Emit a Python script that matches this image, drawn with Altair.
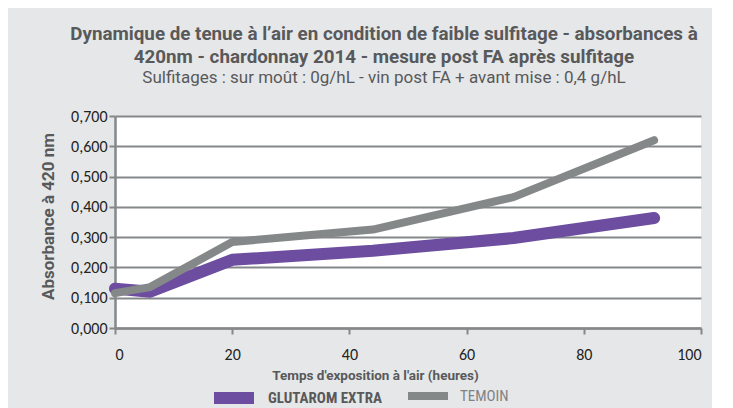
import altair as alt
import pandas as pd

hours = [0, 6, 20, 44, 68, 92]
glutarom = [0.130, 0.120, 0.225, 0.255, 0.297, 0.363]
temoin = [0.115, 0.135, 0.284, 0.325, 0.432, 0.620]
series_names = ["GLUTAROM EXTRA", "TEMOIN"]
series_colors = ["#6c4d9f", "#858889"]
series_widths = [12, 8]

rows = []
for h, g, t in zip(hours, glutarom, temoin):
    rows.append({"h": h, "v": g, "s": series_names[0]})
    rows.append({"h": h, "v": t, "s": series_names[1]})
df = pd.DataFrame(rows)

TITLE_FONT = "Roboto, sans-serif"
COND_FONT = "Roboto Condensed, Roboto, sans-serif"
LABEL_FONT = "Carlito, Open Sans, Liberation Sans, sans-serif"

legend_cfg = dict(title=None, orient="none", direction="horizontal",
                  legendX=93, legendY=256, symbolType="stroke",
                  symbolSize=1600, columnPadding=10, labelOffset=8,
                  labelFont=COND_FONT, labelFontSize=15, gridAlign="none",
                  labelFontWeight=alt.ExprRef("datum.label == 'GLUTAROM EXTRA' ? 'bold' : 'normal'"),
                  labelColor=alt.ExprRef("datum.label == 'GLUTAROM EXTRA' ? '#58595b' : '#808285'"))

chart = alt.Chart(df).mark_line(strokeCap="round", strokeJoin="round").encode(
    x=alt.X("h:Q", scale=alt.Scale(domain=[0, 100], nice=False),
            axis=alt.Axis(values=[0, 20, 40, 60, 80, 100], title="Temps d'exposition à l'air (heures)",
                          grid=False, labelPadding=12, titleX=260, titlePadding=6)),
    y=alt.Y("v:Q", scale=alt.Scale(domain=[0, 0.7], nice=False),
            axis=alt.Axis(values=[0, 0.1, 0.2, 0.3, 0.4, 0.5, 0.6, 0.7],
                          labelExpr="replace(format(datum.value, '.3f'), '.', ',')",
                          title="Absorbance  à 420 nm", titlePadding=13, titleY=100,
                          titleFontSize=17)),
    color=alt.Color("s:N", scale=alt.Scale(domain=series_names, range=series_colors),
                    legend=alt.Legend(**legend_cfg)),
    strokeWidth=alt.StrokeWidth("s:N", scale=alt.Scale(domain=series_names, range=series_widths),
                                legend=alt.Legend(**legend_cfg)),
    order="h:Q",
).properties(
    width=586,
    height=212,
    background="#e6e7e8",
    padding={"left": 31, "top": 17, "right": 10, "bottom": 0},
    title=alt.TitleParams(
        text=["Dynamique de tenue à l’air en condition de faible sulfitage - absorbances à",
              "420nm - chardonnay 2014 - mesure post FA après sulfitage"],
        subtitle="Sulfitages : sur moût : 0g/hL - vin post FA + avant mise : 0,4 g/hL",
        font=TITLE_FONT, fontSize=18.8, fontWeight="bold", color="#58595b", lineHeight=23,
        subtitleFont=TITLE_FONT, subtitleFontSize=17, subtitleColor="#58595b",
        subtitlePadding=3, anchor="middle", dx=-24, offset=22,
    ),
).configure_view(
    fill="white", stroke=None
).configure_axis(
    labelFont=LABEL_FONT, labelFontSize=16, labelColor="#222222",
    titleFont=TITLE_FONT, titleFontSize=16, titleFontWeight="bold", titleColor="#58595b",
    domainColor="#858889", domainWidth=2.5, tickColor="#858889", tickWidth=2, tickSize=6,
    gridColor="#858889", gridWidth=2, gridOpacity=1,
).configure_axisX(
    titleFontSize=13.5,
)

chart.save("out.html", embed_options={"renderer": "svg", "actions": False})
